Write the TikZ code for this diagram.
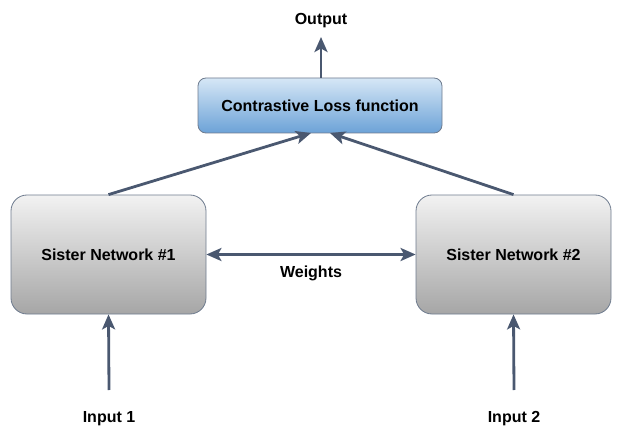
\documentclass[tikz,border=0pt]{standalone}
\usepackage{fontspec}
\setmainfont{Liberation Sans}
\usetikzlibrary{arrows.meta,shadings}
\definecolor{linec}{HTML}{4A5870}
\definecolor{boxborder}{HTML}{6E7B8E}
\definecolor{graytop}{HTML}{F2F2F2}
\definecolor{graybot}{HTML}{A6A6A6}
\definecolor{bluetop}{HTML}{D6E7F6}
\definecolor{bluebot}{HTML}{6CA2D7}
\tikzset{
  tip/.style={Stealth[length=15pt,width=13pt,inset=3.5pt]},
  conn/.style={draw=linec, line width=2.8pt, -{Stealth[length=15pt,width=13pt,inset=3.5pt]}},
  biconn/.style={draw=linec, line width=2.8pt, {Stealth[length=15pt,width=13pt,inset=3.5pt]}-{Stealth[length=15pt,width=13pt,inset=3.5pt]}},
  sisterbox/.style={draw=boxborder, line width=0.8pt, rounded corners=16pt, top color=graytop, bottom color=graybot,
    minimum width=195pt, minimum height=119pt, inner sep=0pt, font=\bfseries\fontsize{16}{18}\selectfont},
  lossbox/.style={draw=boxborder, line width=0.8pt, rounded corners=8pt, top color=bluetop, bottom color=bluebot,
    minimum width=244pt, minimum height=55pt, inner sep=0pt, font=\bfseries\fontsize{16}{18}\selectfont},
  lbl/.style={font=\bfseries\fontsize{16}{18}\selectfont, inner sep=0pt},
}
\begin{document}
\begin{tikzpicture}[x=1pt,y=-1pt]
\useasboundingbox (0,0) rectangle (624,433);
\node[lossbox] (loss) at (320,105.5) {Contrastive Loss function};
\node[sisterbox] (s1) at (108.5,254.5) {Sister Network \#1};
\node[sisterbox] (s2) at (513.5,254.5) {Sister Network \#2};
\node[lbl] (out) at (321,21) {Output};
\node[lbl] (w) at (311,273) {Weights};
\node[lbl] (in1) at (109,419) {Input 1};
\node[lbl] (in2) at (514,419) {Input 2};
\coordinate (outtip) at (321,37);
\coordinate (in1s) at (109,390);
\coordinate (in2s) at (514,390);
\coordinate (lossL) at (311,133);
\coordinate (lossR) at (330,133);
\draw[conn] (loss.north -| outtip) -- (outtip);
\draw[conn] (s1.north) -- (lossL);
\draw[conn] (s2.north) -- (lossR);
\draw[biconn] (s1.east) -- (s2.west);
\draw[conn] (in1s) -- (s1.south);
\draw[conn] (in2s) -- (s2.south);
\end{tikzpicture}
\end{document}
